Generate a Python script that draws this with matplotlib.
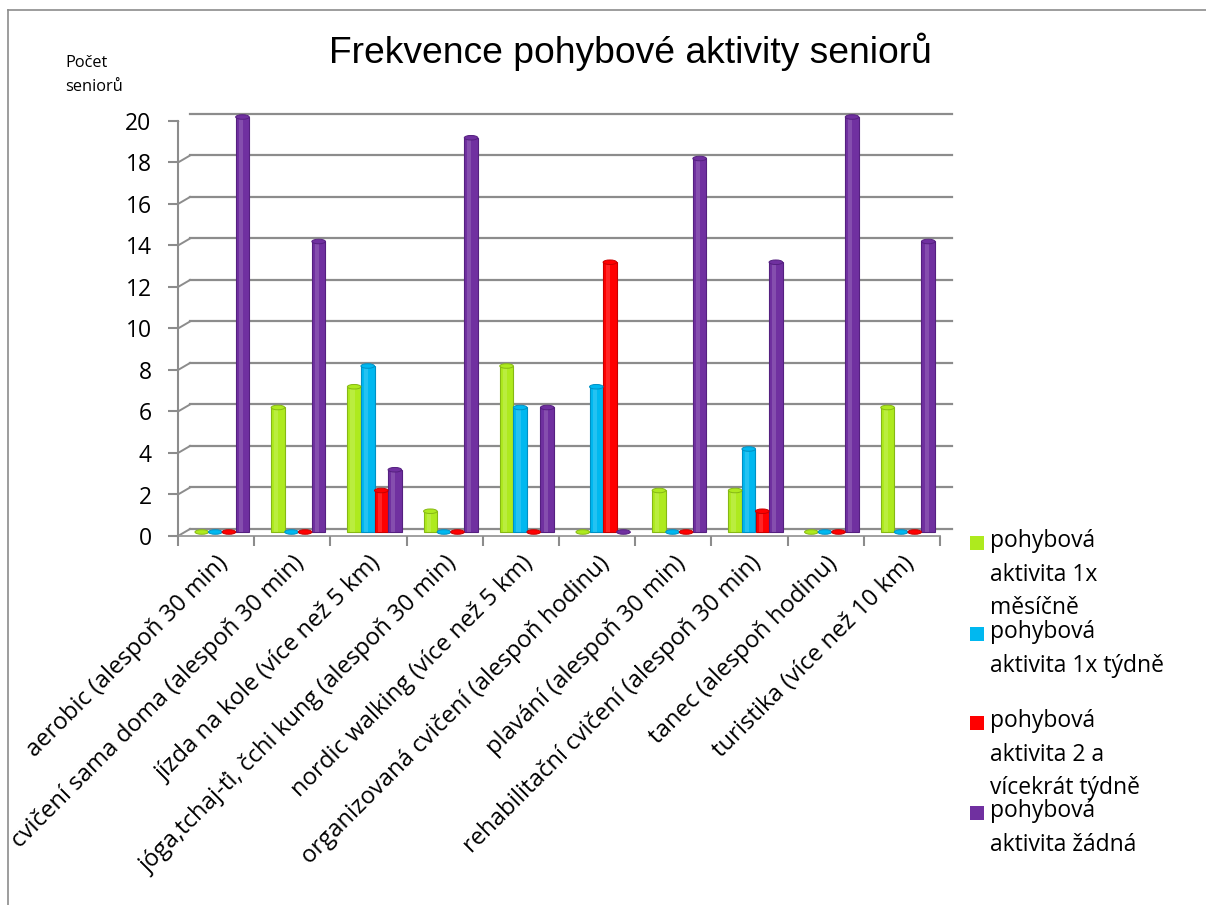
import matplotlib
matplotlib.use("Agg")
import matplotlib.pyplot as plt
import matplotlib.transforms as mtransforms
from matplotlib.patches import Ellipse, Rectangle
import numpy as np

categories = [
    "aerobic (alespoň 30 min)",
    "cvičení sama doma (alespoň 30 min)",
    "jízda na kole (více než 5 km)",
    "jóga,tchaj-ťi, čchi kung (alespoň 30 min)",
    "nordic walking (více než 5 km)",
    "organizovaná cvičení (alespoň hodinu)",
    "plavání (alespoň 30 min)",
    "rehabilitační cvičení (alespoň 30 min)",
    "tanec (alespoň hodinu)",
    "turistika (více než 10 km)",
]
series_names = [
    "pohybová\naktivita 1x\nměsíčně",
    "pohybová\naktivita 1x týdně",
    "pohybová\naktivita 2 a\nvícekrát týdně",
    "pohybová\naktivita žádná",
]
mesicne = [0, 6, 7, 1, 8, 0, 2, 2, 0, 6]
tydne = [0, 0, 8, 0, 6, 7, 0, 4, 0, 0]
dvakrat_tydne = [0, 0, 2, 0, 0, 13, 0, 1, 0, 0]
zadna = [20, 14, 3, 19, 6, 0, 18, 13, 20, 14]
series = [mesicne, tydne, dvakrat_tydne, zadna]
colors = ["#AEEA1E", "#00B8F0", "#FF0000", "#7030A0"]
edge_colors = ["#86B814", "#0090C4", "#C80000", "#552080"]
yticks = [0, 2, 4, 6, 8, 10, 12, 14, 16, 18, 20]

title = "Frekvence pohybové aktivity seniorů"
ylabel = "Počet\nseniorů"

W, H = 1206, 905
fig = plt.figure(figsize=(W / 100, H / 100), dpi=100)
fig.patch.set_facecolor("white")

# outer frame of the chart area
fig.add_artist(plt.Line2D([8 / W, 8 / W], [0, 1 - 10 / H], color="#8C8C8C", lw=1.2))
fig.add_artist(plt.Line2D([8 / W, 1], [1 - 10 / H, 1 - 10 / H], color="#8C8C8C", lw=1.2))

left, right, top, bottom = 178, 940, 121, 536
ax = fig.add_axes([left / W, 1 - bottom / H, (right - left) / W, (bottom - top) / H])
n = len(categories)
ax.set_xlim(0, n)
ax.set_ylim(0, 20)
for s in ["top", "right", "bottom"]:
    ax.spines[s].set_visible(False)
ax.spines["left"].set_color("#8C8C8C")
ax.spines["left"].set_linewidth(1.5)

back = ax.transData + mtransforms.ScaledTranslation(12 / 100, 7 / 100, fig.dpi_scale_trans)
barshift = ax.transData + mtransforms.ScaledTranslation(6 / 100, 4 / 100, fig.dpi_scale_trans)

gcol = "#8C8C8C"
for v in yticks:
    ax.plot([0, n], [v, v], color=gcol, lw=1.6, transform=back, clip_on=False, zorder=0)
    p0 = ax.transData.transform((0, v))
    p1 = back.transform((0, v))
    ax.add_line(plt.Line2D([p0[0], p1[0]], [p0[1], p1[1]], color=gcol, lw=1.4,
                           transform=None, zorder=0))
ax.plot([0, n], [0, 0], color="#A0A0A0", lw=1.4, clip_on=False, zorder=0)
p0 = ax.transData.transform((n, 0))
p1 = back.transform((n, 0))
ax.add_line(plt.Line2D([p0[0], p1[0]], [p0[1], p1[1]], color="#A0A0A0", lw=1.4,
                       transform=None, zorder=0))

ax.set_xticks(np.arange(n + 1), minor=True)
ax.tick_params(axis="x", which="minor", length=7, width=1.5, color="#8C8C8C")
ax.tick_params(axis="x", which="major", length=0, pad=11)
ax.set_xticks(np.arange(n) + 0.5)
ax.set_xticklabels(categories, rotation=45, ha="right", rotation_mode="anchor",
                   fontsize=17.2, family="Open Sans")

ax.set_yticks(yticks)
ax.set_yticklabels([str(v) for v in yticks], fontsize=16.5, family="Open Sans")
ax.tick_params(axis="y", length=7, width=1.5, color="#8C8C8C", pad=12)

bw = 0.178
x = np.arange(n)
for k, (vals, c, ec) in enumerate(zip(series, colors, edge_colors)):
    xs = x + 0.5 + (k - 1.5) * bw
    ax.bar(xs, vals, width=bw, color=c, edgecolor=ec, linewidth=0.8,
           transform=barshift, zorder=3, clip_on=False)
    ax.bar(xs - bw * 0.12, vals, width=bw * 0.3, color="white", alpha=0.15,
           linewidth=0, transform=barshift, zorder=4, clip_on=False)
    for xi, v in zip(xs, vals):
        ax.add_patch(Ellipse((xi, v), bw, 0.22, facecolor=c, edgecolor=ec,
                             linewidth=0.7, transform=barshift, zorder=5, clip_on=False))

fig.text(630 / W, 1 - 52 / H, title, ha="center", va="center", fontsize=26.8,
         family="Liberation Sans")
fig.text(65 / W, 1 - 75 / H, ylabel, ha="left", va="center", fontsize=11.8,
         family="Open Sans", linespacing=1.6)

leg_y = [543, 634, 723, 813]
for name, c, yy in zip(series_names, colors, leg_y):
    fig.add_artist(Rectangle((970 / W, 1 - (yy + 7) / H), 14 / W, 14 / H,
                             facecolor=c, edgecolor="none", transform=fig.transFigure))
    fig.text(990 / W, 1 - (yy - 14) / H, name, ha="left", va="top", fontsize=16.5,
             family="Open Sans", linespacing=1.53)

fig.savefig("out.png", dpi=100, facecolor="white")
